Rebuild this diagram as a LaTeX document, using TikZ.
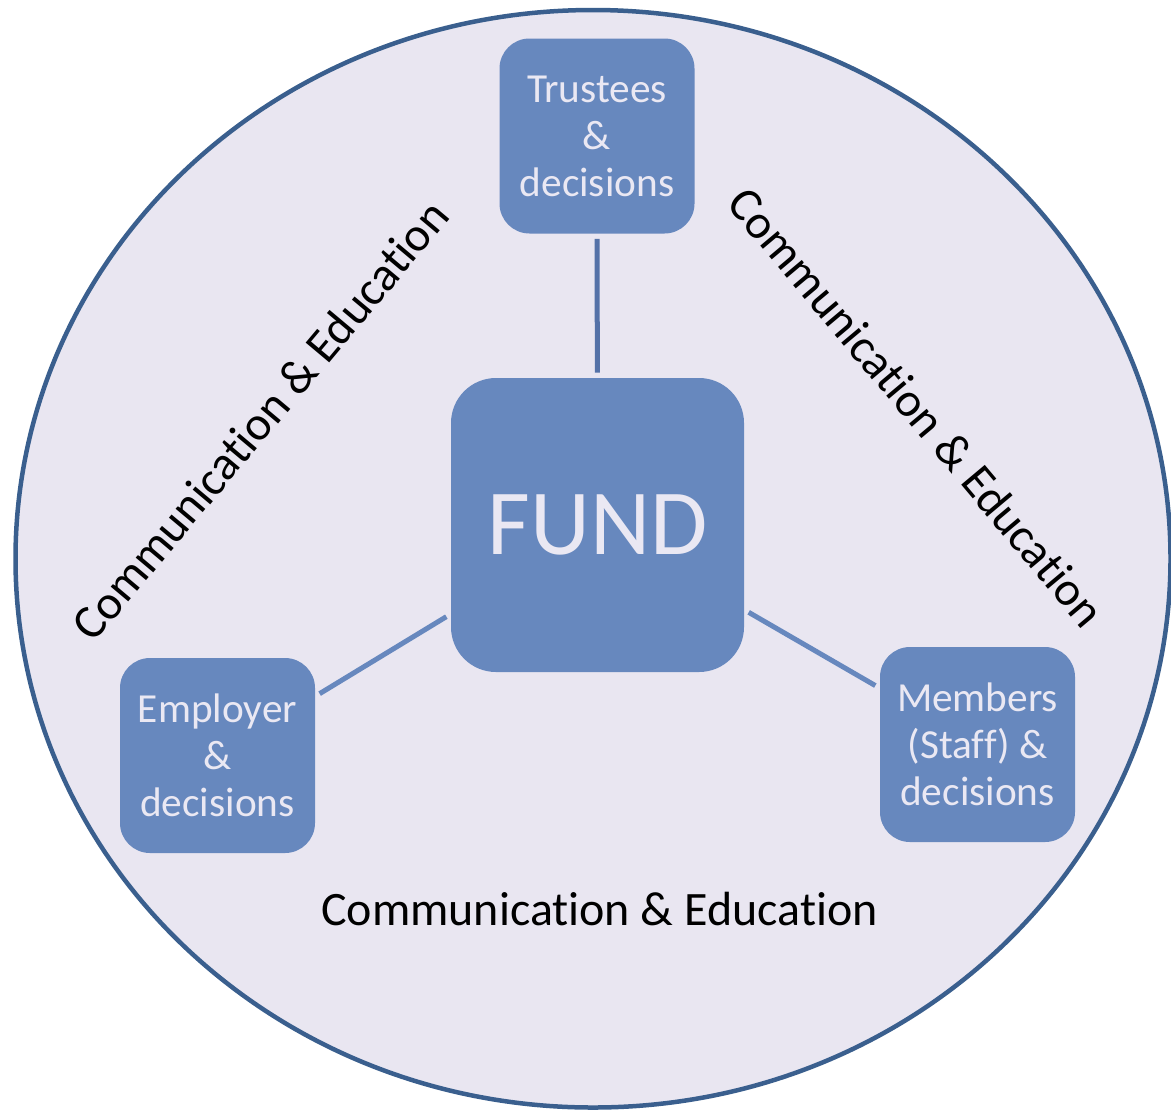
\documentclass[tikz,border=0pt]{standalone}
\usepackage{fontspec}
\setmainfont{Carlito}[Ligatures={NoCommon}]
\definecolor{ringline}{HTML}{3A5F8E}
\definecolor{ringfill}{HTML}{E9E6F1}
\definecolor{boxblue}{HTML}{6788BE}
\definecolor{boxtext}{HTML}{EAE8F3}
\definecolor{linkdark}{HTML}{5572A8}
% no ti ligature
\newcommand{\commedu}{Communicat\kern0pt ion \& Educat\kern0pt ion}
\begin{document}
\begin{tikzpicture}[
  box/.style={fill=boxblue, rounded corners=0.6cm, minimum width=3.9cm, minimum height=3.9cm,
    inner sep=0pt, align=center, text=boxtext, font=\fontsize{23.5}{26.7}\selectfont},
  link/.style={line width=0.1cm, shorten <=0.1cm, shorten >=0.1cm},
  cetext/.style={font=\fontsize{27.3}{30}\selectfont}]
\useasboundingbox (0,0) rectangle (23.42,-22.22);
% ring
\draw[line width=0.09cm, draw=ringline, fill=ringfill] (11.86,-11.175) ellipse [x radius=11.55, y radius=10.975];
% vertices
\node[box, minimum width=5.86cm, minimum height=5.88cm, rounded corners=0.9cm,
  font=\fontsize{53}{60}\selectfont] (fund) at (11.95,-10.5) {FUND};
\node[box] (trustees) at (11.94,-2.72) {Trustees\\\&\\decisions};
\node[box] (employer) at (4.35,-15.11) {Employer\\\&\\decisions};
\node[box] (members) at (19.55,-14.89) {Members\\(Staff) \&\\decisions};
% edges
\draw[link, draw=linkdark] (trustees) -- (fund);
\draw[link, draw=boxblue] (employer) -- (fund);
\draw[link, draw=boxblue] (members) -- (fund);
% labels
\node[cetext, rotate=50] (commleft) at (5.2,-8.4) {\commedu};
\node[cetext, rotate=-50] (commright) at (18.34,-8.14) {\commedu};
\node[cetext, anchor=base] (commbottom) at (11.99,-18.5) {\commedu};
\end{tikzpicture}
\end{document}
